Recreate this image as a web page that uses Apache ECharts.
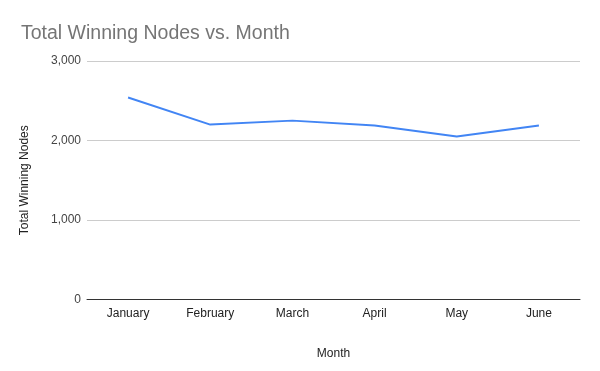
<!DOCTYPE html>
<html><head><meta charset="utf-8">
<script src="https://cdn.jsdelivr.net/npm/echarts@6/dist/echarts.min.js"></script>
<style>html,body{margin:0;padding:0;background:#fff}#c{width:600px;height:371px}</style>
</head><body><div id="c"></div>
<script>
const months = ["January","February","March","April","May","June"];
const totalWinningNodes = [2540, 2200, 2250, 2190, 2050, 2190];
const yTicks = [0, 1000, 2000, 3000];

const FF = 'Liberation Sans, Arial, sans-serif';
const chart = echarts.init(document.getElementById('c'), null, {renderer:'canvas'});
chart.setOption({
  animation:false,
  backgroundColor:'#fff',
  title:{text:'Total Winning Nodes vs. Month', left:16, top:19,
    textStyle:{fontFamily:FF, fontSize:19.5, fontWeight:'normal', color:'#757575'}},
  grid:{left:87, right:20, top:61, bottom:71.5, containLabel:false},
  xAxis:{type:'category', data:months, boundaryGap:true,
    name:'Month', nameLocation:'middle', nameGap:48,
    nameTextStyle:{fontFamily:FF, fontSize:12, color:'#222'},
    axisLine:{lineStyle:{color:'#333', width:1}}, axisTick:{show:false},
    axisLabel:{fontFamily:FF, fontSize:12, color:'#222', margin:8}},
  yAxis:{type:'value', min:yTicks[0], max:yTicks[yTicks.length-1], interval:1000,
    name:'Total Winning Nodes', nameLocation:'middle', nameGap:56,
    nameTextStyle:{fontFamily:FF, fontSize:12, color:'#222'},
    axisLine:{show:false}, axisTick:{show:false},
    splitLine:{lineStyle:{color:'#cccccc', width:1}},
    axisLabel:{fontFamily:FF, fontSize:12, color:'#444', margin:6,
      formatter:v=>v.toLocaleString('en-US')}},
  series:[{type:'line', data:totalWinningNodes, showSymbol:false, symbol:'none',
    lineStyle:{color:'#4285F4', width:2}, itemStyle:{color:'#4285F4'}}]
});
</script></body></html>
